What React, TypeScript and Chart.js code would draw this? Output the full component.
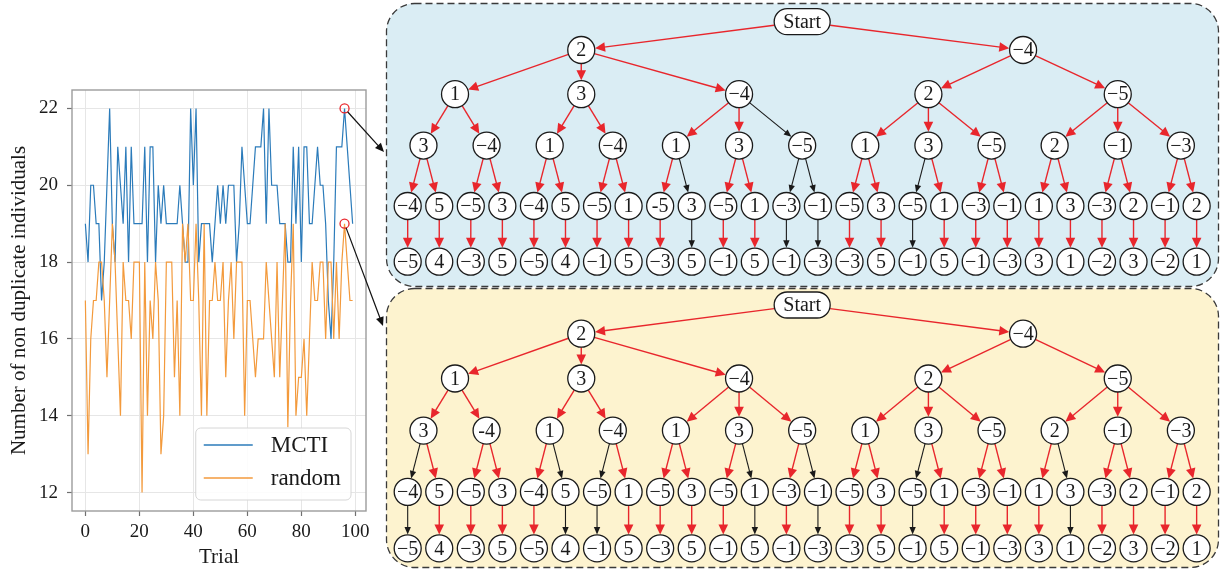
import React, { useEffect, useRef } from 'react';
import { Chart, registerables } from 'chart.js';

Chart.register(...registerables);

const SERIF = '"Liberation Serif", "DejaVu Serif", "Times New Roman", serif';
const TEXT = '#1a1a1a';
const RED = '#e8262c';

// ---------------- Left chart data ----------------
const xAxisTitle = 'Trial';
const yAxisTitle = 'Number of non duplicate individuals';
const seriesNames = ['MCTI', 'random'];
const seriesColors = ['#2b7bba', '#f39a3c'];
const mctiValues = [
  19, 18, 20, 20, 19, 19, 17, 18, 20, 22,
  19, 18, 21, 20, 19, 21, 18, 21, 19, 19,
  19, 19, 21, 18, 21, 21, 18, 20, 19, 20,
  19, 19, 19, 19, 19, 20, 19, 18, 18, 22,
  20, 22, 18, 19, 19, 19, 19, 18, 19, 20,
  19, 20, 19, 20, 20, 20, 18, 19, 21, 20,
  19, 19, 20, 21, 21, 21, 22, 19, 22, 20,
  20, 20, 19, 19, 19, 18, 18, 21, 19, 21,
  18, 21, 21, 19, 19, 20, 21, 20, 20, 19,
  17, 16, 18, 21, 21, 21, 22, 21, 20, 19,
];
const randomValues = [
  17, 13, 16, 17, 17, 18, 18, 17, 15, 17,
  19, 18, 16, 14, 18, 17, 17, 16, 18, 18,
  18, 12, 18, 14, 17, 16, 18, 17, 13, 14,
  18, 18, 18, 15, 17, 14, 19, 18, 19, 17,
  17, 19, 17, 14, 19, 14, 17, 17, 18, 17,
  17, 18, 15, 17, 18, 16, 18, 18, 18, 14,
  17, 17, 16, 15, 16, 16, 16, 18, 17, 16,
  15, 18, 15, 17, 19, 13.7, 17, 19, 14, 15,
  15, 16, 14, 16, 18, 17, 17, 18, 18, 16,
  18, 18, 16, 18, 16, 18, 19, 18, 17, 17,
];
const yTickValues = [12, 14, 16, 18, 20, 22];
const xTickValues = [0, 20, 40, 60, 80, 100];
const xLimits = [-4.95, 103.95];
const yLimits = [11.52, 22.48];
const highlightedTrial = 96;
// where the two call-out arrows point (page pixels, next to the panels)
const calloutTargets = [
  [384, 152],
  [383, 326],
];

// ---------------- Tree data ----------------
const startLabel = 'Start';
const level1Labels = ['2', '−4'];
const level2Labels = ['1', '3', '−4', '2', '−5'];
const level3LabelsMcti = ['3', '−4', '1', '−4', '1', '3', '−5', '1', '3', '−5', '2', '−1', '−3'];
const level3LabelsRandom = ['3', '-4', '1', '−4', '1', '3', '−5', '1', '3', '−5', '2', '−1', '−3'];
const level4LabelsMcti = ['−4', '5', '−5', '3', '−4', '5', '−5', '1', '-5', '3', '−5', '1', '−3', '−1', '−5', '3', '−5', '1', '−3', '−1', '1', '3', '−3', '2', '−1', '2'];
const level4LabelsRandom = ['−4', '5', '−5', '3', '−4', '5', '−5', '1', '−5', '3', '−5', '1', '−3', '−1', '−5', '3', '−5', '1', '−3', '−1', '1', '3', '−3', '2', '−1', '2'];
const level5Labels = ['−5', '4', '−3', '5', '−5', '4', '−1', '5', '−3', '5', '−1', '5', '−1', '−3', '−3', '5', '−1', '5', '−1', '−3', '3', '1', '−2', '3', '−2', '1'];
const level1Parents = [0, 0];
const level2Parents = [0, 0, 0, 1, 1];
const level3Parents = [0, 0, 1, 1, 2, 2, 2, 3, 3, 3, 4, 4, 4];
const level4Parents = [0, 0, 1, 1, 2, 2, 3, 3, 4, 4, 5, 5, 6, 6, 7, 7, 8, 8, 9, 9, 10, 10, 11, 11, 12, 12];
const level5Parents = [0, 1, 2, 3, 4, 5, 6, 7, 8, 9, 10, 11, 12, 13, 14, 15, 16, 17, 18, 19, 20, 21, 22, 23, 24, 25];
// colour of the edge entering each node, level by level: R = red (explored), K = black
const mctiEdges = ['RR', 'RRRRR', 'RRRRRRKRRRRRR', 'RRRRRRRRRKRRKKRRKRRRRRRRRR', 'RRRRRRRRRKRRKKRRKRRRRRRRRR'];
const randomEdges = ['RR', 'RRRRR', 'RRRRRRRRRRRRR', 'KRRRRKKRRRRKRKRRKRRRRKRRRR', 'KRRRRKKRRRRKRKRRKRRRRKRRRR'];

// layout rows of the levels (tree layout parameter)
const levelRows = [0, 0.59, 1.51, 2.58, 3.84, 5];
const NODE_R = 13.5;

type TNode = { label: string; level: number; parent: number; x: number; edge: string; children: number[] };

function buildTree(labels: string[][], parents: number[][], edges: string[]): TNode[] {
  const nodes: TNode[] = [];
  const offsets: number[] = [];
  labels.forEach((ls, lv) => {
    offsets[lv] = nodes.length;
    ls.forEach((label, i) => {
      const parent = lv === 0 ? -1 : offsets[lv - 1] + parents[lv][i];
      nodes.push({ label, level: lv, parent, x: 0, edge: lv === 0 ? '' : edges[lv - 1][i], children: [] });
    });
  });
  nodes.forEach((n, i) => {
    if (n.parent >= 0) nodes[n.parent].children.push(i);
  });
  let leaf = 0;
  for (let lv = labels.length - 1; lv >= 0; lv--) {
    for (let i = offsets[lv]; i < offsets[lv] + labels[lv].length; i++) {
      const n = nodes[i];
      if (n.children.length === 0) n.x = leaf++;
      else {
        const xs = n.children.map((c) => nodes[c].x);
        const k = xs.length;
        n.x = k % 2 === 1 ? xs[(k - 1) / 2] : (xs[k / 2 - 1] + xs[k / 2]) / 2;
      }
    }
  }
  return nodes;
}

function roundRectPath(ctx: CanvasRenderingContext2D, x: number, y: number, w: number, h: number, r: number) {
  ctx.beginPath();
  ctx.moveTo(x + r, y);
  ctx.lineTo(x + w - r, y);
  ctx.arcTo(x + w, y, x + w, y + r, r);
  ctx.lineTo(x + w, y + h - r);
  ctx.arcTo(x + w, y + h, x + w - r, y + h, r);
  ctx.lineTo(x + r, y + h);
  ctx.arcTo(x, y + h, x, y + h - r, r);
  ctx.lineTo(x, y + r);
  ctx.arcTo(x, y, x + r, y, r);
  ctx.closePath();
}

function drawArrow(ctx: CanvasRenderingContext2D, x0: number, y0: number, x1: number, y1: number, color: string, lw: number, headLen: number, headHalf: number) {
  const dx = x1 - x0;
  const dy = y1 - y0;
  const len = Math.hypot(dx, dy) || 1;
  const ux = dx / len;
  const uy = dy / len;
  const bx = x1 - ux * headLen;
  const by = y1 - uy * headLen;
  ctx.strokeStyle = color;
  ctx.lineWidth = lw;
  ctx.setLineDash([]);
  ctx.beginPath();
  ctx.moveTo(x0, y0);
  ctx.lineTo(bx + ux, by + uy);
  ctx.stroke();
  ctx.fillStyle = color;
  ctx.beginPath();
  ctx.moveTo(x1, y1);
  ctx.lineTo(bx - uy * headHalf, by + ux * headHalf);
  ctx.lineTo(bx + uy * headHalf, by - ux * headHalf);
  ctx.closePath();
  ctx.fill();
}

// ---------------- Left line chart ----------------
function TrialChart() {
  const ref = useRef<HTMLCanvasElement>(null);
  useEffect(() => {
    const toPoints = (vals: number[]) => vals.map((v, i) => ({ x: i, y: v }));
    const ringRadius = (c: any) => (c.dataIndex === highlightedTrial ? 4.5 : 0);
    const gridOpts = { color: '#e6e6e6', lineWidth: 1, tickLength: 5, tickColor: '#707070', tickWidth: 1.2, drawTicks: true };

    const decor = {
      id: 'lineDecor',
      afterDraw(chart: any) {
        const { ctx, chartArea: a } = chart;
        ctx.save();
        // frame
        ctx.strokeStyle = '#9c9c9c';
        ctx.lineWidth = 1.4;
        ctx.strokeRect(a.left, a.top, a.right - a.left, a.bottom - a.top);
        // legend
        ctx.font = `23px ${SERIF}`;
        const ds = chart.data.datasets;
        const textW = Math.max(...ds.map((d: any) => ctx.measureText(d.label).width));
        const w = 8 + 49 + 18 + textW + 10;
        const h = 72;
        const x0 = a.right - 15 - w;
        const y0 = a.bottom - 11 - h;
        roundRectPath(ctx, x0, y0, w, h, 5);
        ctx.fillStyle = 'rgba(255,255,255,0.85)';
        ctx.fill();
        ctx.strokeStyle = '#d6d6d6';
        ctx.lineWidth = 1;
        ctx.stroke();
        ds.forEach((d: any, i: number) => {
          const cy = y0 + 17 + i * 33;
          ctx.strokeStyle = d.borderColor;
          ctx.lineWidth = 1.6;
          ctx.beginPath();
          ctx.moveTo(x0 + 8, cy);
          ctx.lineTo(x0 + 57, cy);
          ctx.stroke();
          ctx.fillStyle = TEXT;
          ctx.textAlign = 'left';
          ctx.textBaseline = 'middle';
          ctx.fillText(d.label, x0 + 75, cy + 1);
        });
        // call-out arrows
        ds.forEach((_d: any, i: number) => {
          const pt = chart.getDatasetMeta(i).data[highlightedTrial];
          const [tx, ty] = calloutTargets[i];
          const dx = tx - pt.x;
          const dy = ty - pt.y;
          const len = Math.hypot(dx, dy);
          drawArrow(ctx, pt.x + (dx / len) * 4.5, pt.y + (dy / len) * 4.5, tx, ty, '#111', 1.2, 9, 4);
        });
        ctx.restore();
      },
    };

    const chart = new Chart(ref.current as HTMLCanvasElement, {
      type: 'line',
      data: {
        datasets: [
          {
            label: seriesNames[0],
            data: toPoints(mctiValues),
            borderColor: seriesColors[0],
            borderWidth: 1.2,
            order: 2,
            tension: 0,
            pointRadius: ringRadius,
            pointHoverRadius: ringRadius,
            pointBorderColor: RED,
            pointBackgroundColor: 'rgba(0,0,0,0)',
            pointBorderWidth: 1.3,
          },
          {
            label: seriesNames[1],
            data: toPoints(randomValues),
            borderColor: seriesColors[1],
            borderWidth: 1.2,
            order: 1,
            tension: 0,
            pointRadius: ringRadius,
            pointHoverRadius: ringRadius,
            pointBorderColor: RED,
            pointBackgroundColor: 'rgba(0,0,0,0)',
            pointBorderWidth: 1.3,
          },
        ],
      } as any,
      options: {
        responsive: false,
        animation: false,
        events: [],
        layout: { autoPadding: false, padding: { top: 90, right: 24, bottom: 0, left: 0 } },
        plugins: { legend: { display: false }, tooltip: { enabled: false } },
        scales: {
          x: {
            type: 'linear',
            min: xLimits[0],
            max: xLimits[1],
            bounds: 'data',
            afterBuildTicks: (s: any) => {
              s.ticks = xTickValues.map((v) => ({ value: v }));
            },
            afterFit: (s: any) => {
              s.height = 60;
            },
            grid: gridOpts,
            border: { display: false },
            ticks: { font: { family: SERIF, size: 19 }, color: TEXT, padding: 5, maxRotation: 0, autoSkip: false },
            title: { display: true, text: xAxisTitle, font: { family: SERIF, size: 21 }, color: TEXT, padding: { top: 0, bottom: 1 } },
          },
          y: {
            type: 'linear',
            min: yLimits[0],
            max: yLimits[1],
            bounds: 'data',
            afterBuildTicks: (s: any) => {
              s.ticks = yTickValues.map((v) => ({ value: v }));
            },
            afterFit: (s: any) => {
              s.width = 72;
            },
            grid: gridOpts,
            border: { display: false },
            ticks: { font: { family: SERIF, size: 19 }, color: TEXT, padding: 9, autoSkip: false },
            title: { display: true, text: yAxisTitle, font: { family: SERIF, size: 21 }, color: TEXT, padding: { top: 7, bottom: 0 } },
          },
        },
      } as any,
      plugins: [decor],
    });
    return () => chart.destroy();
  }, []);
  return <canvas ref={ref} width={390} height={571} style={{ position: 'absolute', left: 0, top: 0, zIndex: 2 }} />;
}

// ---------------- Tree panels ----------------
type PanelProps = {
  left: number;
  top: number;
  width: number;
  height: number;
  background: string;
  level3: string[];
  level4: string[];
  edges: string[];
  yMin: number;
  yMax: number;
};

function TreePanel(p: PanelProps) {
  const ref = useRef<HTMLCanvasElement>(null);
  useEffect(() => {
    const nodes = buildTree(
      [[startLabel], level1Labels, level2Labels, p.level3, p.level4, level5Labels],
      [[], level1Parents, level2Parents, level3Parents, level4Parents, level5Parents],
      p.edges,
    );
    const pillHW = 28;
    const pillHH = 13;

    const decor = {
      id: 'treeDecor',
      beforeDraw(chart: any) {
        const { ctx, width, height } = chart;
        ctx.save();
        roundRectPath(ctx, 1.5, 1.5, width - 3, height - 3, 28);
        ctx.fillStyle = p.background;
        ctx.fill();
        ctx.setLineDash([7, 4]);
        ctx.strokeStyle = '#3a3a3a';
        ctx.lineWidth = 1.3;
        ctx.stroke();
        ctx.restore();
      },
      beforeDatasetsDraw(chart: any) {
        const { ctx } = chart;
        const pts = chart.getDatasetMeta(0).data;
        ctx.save();
        nodes.forEach((n, i) => {
          if (n.parent < 0) return;
          const a = pts[n.parent];
          const b = pts[i];
          const dx = b.x - a.x;
          const dy = b.y - a.y;
          const len = Math.hypot(dx, dy);
          const ux = dx / len;
          const uy = dy / len;
          let rs = NODE_R;
          if (nodes[n.parent].level === 0) {
            rs = Math.min(Math.abs(ux) > 1e-6 ? pillHW / Math.abs(ux) : 1e9, Math.abs(uy) > 1e-6 ? pillHH / Math.abs(uy) : 1e9);
          }
          const red = n.edge === 'R';
          drawArrow(
            ctx,
            a.x + ux * rs,
            a.y + uy * rs,
            b.x - ux * (NODE_R + 0.4),
            b.y - uy * (NODE_R + 0.4),
            red ? RED : '#1a1a1a',
            red ? 1.4 : 1.1,
            red ? 10 : 7.5,
            red ? 4.8 : 3.2,
          );
        });
        ctx.restore();
      },
      afterDatasetsDraw(chart: any) {
        const { ctx } = chart;
        const pts = chart.getDatasetMeta(0).data;
        ctx.save();
        ctx.font = `20px ${SERIF}`;
        ctx.textAlign = 'center';
        ctx.textBaseline = 'middle';
        nodes.forEach((n, i) => {
          const pt = pts[i];
          if (n.level === 0) {
            roundRectPath(ctx, pt.x - pillHW, pt.y - pillHH, pillHW * 2, pillHH * 2, pillHH);
            ctx.fillStyle = '#ffffff';
            ctx.fill();
            ctx.strokeStyle = '#1a1a1a';
            ctx.lineWidth = 1.3;
            ctx.stroke();
          }
          ctx.fillStyle = TEXT;
          ctx.fillText(n.label, pt.x, pt.y + 1);
        });
        ctx.restore();
      },
    };

    const chart = new Chart(ref.current as HTMLCanvasElement, {
      type: 'scatter',
      data: {
        datasets: [
          {
            data: nodes.map((n) => ({ x: n.x, y: levelRows[n.level] })),
            pointRadius: (c: any) => (c.dataIndex === 0 ? 0 : NODE_R),
            pointHoverRadius: (c: any) => (c.dataIndex === 0 ? 0 : NODE_R),
            pointBackgroundColor: '#ffffff',
            pointBorderColor: '#1a1a1a',
            pointBorderWidth: 1.3,
          },
        ],
      } as any,
      options: {
        responsive: false,
        animation: false,
        events: [],
        layout: { autoPadding: false, padding: 0 },
        plugins: { legend: { display: false }, tooltip: { enabled: false } },
        scales: {
          x: { type: 'linear', display: false, min: -0.719, max: 25.74 },
          y: { type: 'linear', display: false, min: p.yMin, max: p.yMax, reverse: true },
        },
      } as any,
      plugins: [decor],
    });
    return () => chart.destroy();
  }, []);
  return (
    <canvas
      ref={ref}
      width={p.width}
      height={p.height}
      style={{ position: 'absolute', left: p.left, top: p.top, width: p.width, height: p.height, zIndex: 1 }}
    />
  );
}

export default function App() {
  return (
    <div style={{ position: 'fixed', left: 0, top: 0, width: 1221, height: 571, background: '#ffffff', overflow: 'hidden' }}>
      <TreePanel
        left={385}
        top={2}
        width={835}
        height={286}
        background="#daedf4"
        level3={level3LabelsMcti}
        level4={level4LabelsMcti}
        edges={mctiEdges}
        yMin={-0.41}
        yMax={5.548}
      />
      <TreePanel
        left={385}
        top={287}
        width={835}
        height={282}
        background="#fdf3cf"
        level3={level3LabelsRandom}
        level4={level4LabelsRandom}
        edges={randomEdges}
        yMin={-0.37}
        yMax={5.425}
      />
      <TrialChart />
    </div>
  );
}
